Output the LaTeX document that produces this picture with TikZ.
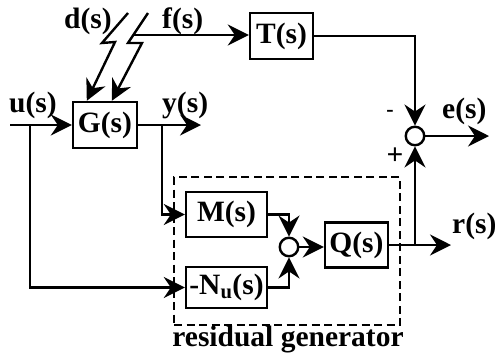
\documentclass[tikz,border=0pt]{standalone}
\usepackage{fontspec}
\setmainfont{Liberation Serif}
\usetikzlibrary{arrows.meta,calc}
\begin{document}
\begin{tikzpicture}[x=1pt,y=-1pt,
  every node/.style={font=\fontsize{29.5}{31}\selectfont\bfseries},
  blk/.style={draw,line width=2.4pt,inner sep=0pt},
  sumc/.style={draw,circle,line width=2.4pt,minimum size=18.5pt,inner sep=0pt},
  wire/.style={line width=2.4pt},
  arr/.style={wire,-{Stealth[length=21pt,width=21pt,inset=7pt]}},
  lbl/.style={anchor=base west,inner sep=0pt},
  dbox/.style={draw,line width=2.4pt,dash pattern=on 8pt off 4.5pt,inner sep=0pt},
]
\useasboundingbox (0,0) rectangle (495,357);
% blocks
\node[blk,minimum width=64pt,minimum height=46pt] (G) at (105,125) {G(s)};
\node[blk,minimum width=63pt,minimum height=46pt] (T) at (281.5,36) {T(s)};
\node[dbox,minimum width=226pt,minimum height=148pt] (RG) at (287,251) {};
\node[blk,minimum width=81pt,minimum height=45pt] (M) at (226.5,214.5) {M(s)};
\node[blk,minimum width=81pt,minimum height=41pt] (N) at (226.5,287.5) {-N\textsubscript{u}(s)};
\node[blk,minimum width=63pt,minimum height=45pt] (Q) at (356.5,245) {Q(s)};
\node[sumc] (S1) at (289,247) {};
\node[sumc] (S2) at (415,136) {};
% labels
\node[lbl] (ul) at (9,112) {u(s)};
\node[lbl] (yl) at (162,112) {y(s)};
\node[lbl] (dl) at (64,28) {d(s)};
\node[lbl] (fl) at (162,28) {f(s)};
\node[lbl] (el) at (442,118) {e(s)};
\node[lbl] (rl) at (452,233) {r(s)};
\node[inner sep=0pt,font=\fontsize{22}{24}\selectfont\bfseries] (mi) at (390,113) {-};
\node[inner sep=0pt] (pl) at (395,156) {+};
\node[anchor=base,inner sep=0pt] (rgl) at (288,346) {residual generator};
% coordinates
\coordinate (uin) at (10,125);
\coordinate (uj) at (30,125);
\coordinate (yout) at (201,125);
\coordinate (yj) at (162,125);
\coordinate (rout) at (451,245);
\coordinate (rj) at (415,245);
\coordinate (eout) at (489,136);
\coordinate (d0) at (128,13);
\coordinate (d1) at (102,43);
\coordinate (d2) at (115,42);
\coordinate (f0) at (148,13);
\coordinate (f1) at (128,43);
\coordinate (f2) at (142,43);
\coordinate (fj) at (134,35);
% connectors
\draw[arr] (uin) -- (G.west);
\draw[arr] (uj) |- (N.west);
\draw[arr] (G.east) -- (yout);
\draw[arr] (yj) |- (M.west);
\draw[arr] (M.east) -| (S1.north);
\draw[arr] (N.east) -| (S1.south);
\draw[arr] (S1.east) -- (S1.east -| Q.west);
\draw[arr] (Q.east) -- (rout);
\draw[arr] (rj) -- (S2.south);
\draw[arr] (T.east) -| (S2.north);
\draw[arr] (S2.east) -- (eout);
\draw[arr] (d0) -- (d1) -- (d2) -- ($(G.north west)+(15,0)$);
\draw[arr] (f0) -- (f1) -- (f2) -- ($(G.north west)+(40,0)$);
\draw[arr] (fj) -- (fj -| T.west);
\end{tikzpicture}
\end{document}
